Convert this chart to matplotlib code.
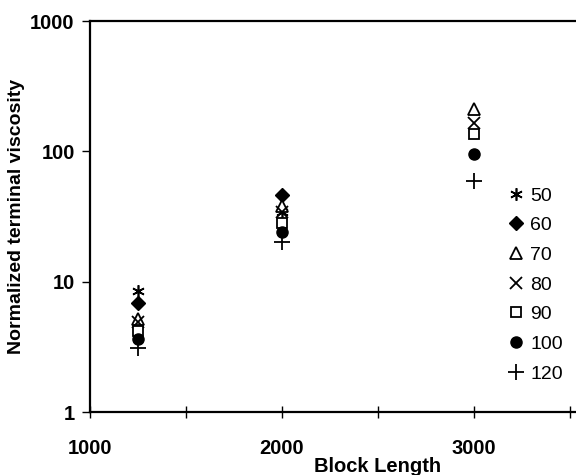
import matplotlib
matplotlib.use("Agg")
import matplotlib.pyplot as plt
import numpy as np

plt.rcParams["font.family"] = ["Liberation Sans", "DejaVu Sans"]

block_length = np.array([1250, 2000, 3000])
series_labels = ["50", "60", "70", "80", "90", "100", "120"]
viscosity = {
    "50": [8.5, 34, np.nan],
    "60": [6.8, 46, np.nan],
    "70": [5.2, 38, 212],
    "80": [4.9, 34, 165],
    "90": [4.2, 28, 135],
    "100": [3.6, 24, 95],
    "120": [3.1, 20, 59],
}
styles = {
    "50": dict(marker=(6, 2, 0), mfc="black", ms=9, mew=1.2),
    "60": dict(marker="D", mfc="black", ms=7, mew=1),
    "70": dict(marker="^", mfc="white", ms=9, mew=1.3),
    "80": dict(marker="x", mfc="black", ms=9, mew=1.3),
    "90": dict(marker="s", mfc="white", ms=7, mew=1.3),
    "100": dict(marker="o", mfc="black", ms=8, mew=1),
    "120": dict(marker="+", mfc="black", ms=11, mew=1.3),
}

fig = plt.figure(figsize=(5.76, 4.75), dpi=100)
ax = fig.add_axes([90 / 576, 63 / 475, 576 / 576, 391 / 475])

handles = []
for lab in series_labels:
    h, = ax.plot(block_length, viscosity[lab], linestyle="none", color="black",
                 mec="black", label=lab, clip_on=False, **styles[lab])
    handles.append(h)

ax.set_yscale("log")
ax.set_ylim(1, 1000)
ax.set_xlim(1000, 4000)
ax.set_yticks([1, 10, 100, 1000])
ax.set_yticklabels(["1", "10", "100", "1000"])
ax.yaxis.set_minor_locator(matplotlib.ticker.NullLocator())
ax.set_xticks([1000, 2000, 3000, 4000])
ax.set_xticklabels(["1000", "2000", "3000", ""])
ax.set_xticks([1500, 2500, 3500], minor=True)

ax.tick_params(axis="y", direction="out", length=6, width=1, pad=5,
               labelsize=14.5, colors="black")
ax.tick_params(axis="x", which="major", direction="inout", length=9, width=1,
               pad=15, labelsize=14.5)
ax.tick_params(axis="x", which="minor", direction="inout", length=9, width=1)
for t in ax.get_xticklabels() + ax.get_yticklabels():
    t.set_fontweight("bold")

for side in ["left", "top", "bottom"]:
    ax.spines[side].set_linewidth(1.6)
    ax.spines[side].set_color("black")
ax.spines["right"].set_visible(False)

ax.set_ylabel("Normalized terminal viscosity", fontsize=14, fontweight="bold", labelpad=4)
ax.set_xlabel("Block Length", fontsize=14.5, fontweight="bold")
ax.xaxis.set_label_coords(0.5, -0.116)

fig.legend(handles=handles, labels=series_labels, loc="upper left",
           bbox_to_anchor=(507 / 576, 1 - 187 / 475), frameon=False,
           fontsize=14, handlelength=0.9, handletextpad=0.3, labelspacing=0.62,
           borderpad=0, borderaxespad=0)

fig.savefig("out.png", dpi=100)
